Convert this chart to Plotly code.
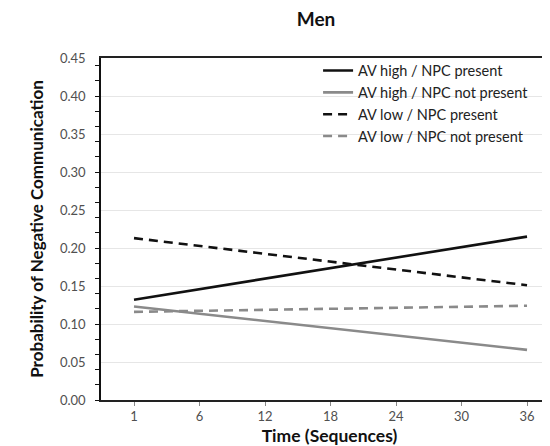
import plotly.graph_objects as go

# Data
time_labels = ["1", "6", "12", "18", "24", "30", "36"]
time_points = ["1", "36"]
series_names = [
    "AV high / NPC present",
    "AV high / NPC not present",
    "AV low / NPC present",
    "AV low / NPC not present",
]
av_high_npc_present = [0.132, 0.215]
av_high_npc_not_present = [0.123, 0.066]
av_low_npc_present = [0.213, 0.151]
av_low_npc_not_present = [0.116, 0.124]

y_ticks = [0.0, 0.05, 0.10, 0.15, 0.20, 0.25, 0.30, 0.35, 0.40, 0.45]

FONT = "Lato, 'Open Sans', sans-serif"

styles = [
    dict(color="#111111", width=2.6, dash="solid"),
    dict(color="#8a8a8a", width=2.6, dash="solid"),
    dict(color="#111111", width=2.6, dash="9px,6px"),
    dict(color="#8a8a8a", width=2.6, dash="9px,6px"),
]
values = [av_high_npc_present, av_high_npc_not_present, av_low_npc_present, av_low_npc_not_present]

fig = go.Figure()
for name, vals, st in zip(series_names, values, styles):
    fig.add_trace(go.Scatter(x=time_points, y=vals, mode="lines", name=name, line=st))

fig.update_layout(
    width=550, height=446,
    margin=dict(l=93, r=0, t=50, b=54),
    paper_bgcolor="white", plot_bgcolor="white",
    font=dict(family=FONT, color="#222222"),
    title=dict(text="<b>Men</b>", x=0.56, xanchor="center", y=0.99, yanchor="top",
               font=dict(size=19, family=FONT, color="#111111")),
    showlegend=True,
    legend=dict(x=0.475, xanchor="left", y=1.01, yanchor="top",
                font=dict(size=14.5, family=FONT, color="#222222"),
                bgcolor="rgba(255,255,255,0)", tracegroupgap=0),
    xaxis=dict(
        type="category", categoryorder="array", categoryarray=time_labels,
        tickvals=time_labels, ticktext=time_labels,
        range=[-0.504, 6.473],
        showline=True, linecolor="#222222", linewidth=1.5, mirror=True,
        ticks="outside", ticklen=4, tickcolor="#888888",
        tickfont=dict(size=13, family=FONT, color="#505050"),
        showgrid=False,
        title=dict(text="<b>Time (Sequences)</b>", font=dict(size=17.5, family=FONT, color="#111111"), standoff=6),
    ),
    yaxis=dict(
        range=[0, 0.45], tickvals=y_ticks, tickformat=".2f",
        showline=True, linecolor="#111111", linewidth=1.5,
        ticks="", ticklabelstandoff=11,
        tickfont=dict(size=13, family=FONT, color="#505050"),
        showgrid=True, gridcolor="#e6e6e6", gridwidth=1,
        minor=dict(dtick=0.02, tick0=0, ticks="outside", ticklen=4, tickcolor="#111111", showgrid=False),
        zeroline=False,
        title=dict(text="<b>Probability of Negative Communication</b>", font=dict(size=17, family=FONT, color="#111111"), standoff=12),
    ),
)

fig.write_html("out.html")
